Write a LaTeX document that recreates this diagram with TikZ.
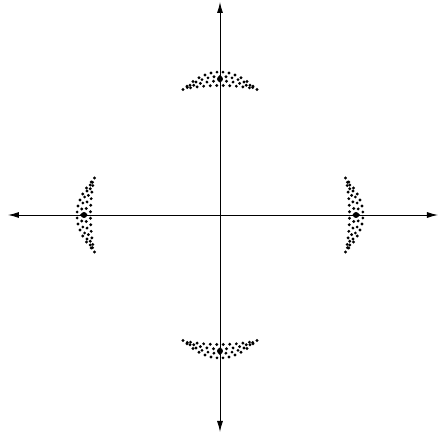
\documentclass[tikz,border=0pt]{standalone}
\usepackage{tikz}
\usetikzlibrary{arrows.meta,calc}

\begin{document}
\begin{tikzpicture}[x=1pt, y=1pt, every node/.style={font=\small},
    pt/.style={circle, fill, inner sep=0pt, minimum size=6pt},
    ax/.style={line width=0.9pt, -{Latex[length=11pt, width=6pt]}}]
  \useasboundingbox (-220,-221) rectangle (220,215);
  \coordinate (o) at (0,0);
  \coordinate (xr) at (218,0);
  \coordinate (xl) at (-212,0);
  \coordinate (yt) at (0,213);
  \coordinate (yb) at (0,-217);
  \draw[ax] (o) -- (xr);
  \draw[ax] (o) -- (xl);
  \draw[ax] (o) -- (yt);
  \draw[ax] (o) -- (yb);
  % crescent clusters of points near the four axis crossings (sagitta/count/shift)
  \foreach \ph in {0,90,180,270} {
    \begin{scope}[rotate=\ph-90]
      \foreach \s/\n/\o in {17/12/0.5, 12.5/11/0, 8/11/0.5, 3.5/10/0} {
        \foreach \k in {1,...,\n} {
          \pgfmathsetmacro{\u}{-36+72*(\k-\o)/(\n+1-2*\o)}
          \pgfmathsetmacro{\v}{126+\s*(1-(\u/36)^2)}
          \fill (\u,\v) circle (1.6pt);
        }
      }
      \fill (-37,125.5) circle (1.6pt) (37,125.5) circle (1.6pt);
    \end{scope}
  }
  \node[pt] (e1) at (136,0) {};
  \node[pt] (e2) at (0,136) {};
  \node[pt] (e3) at (-136,0) {};
  \node[pt] (e4) at (0,-136) {};
\end{tikzpicture}
\end{document}
